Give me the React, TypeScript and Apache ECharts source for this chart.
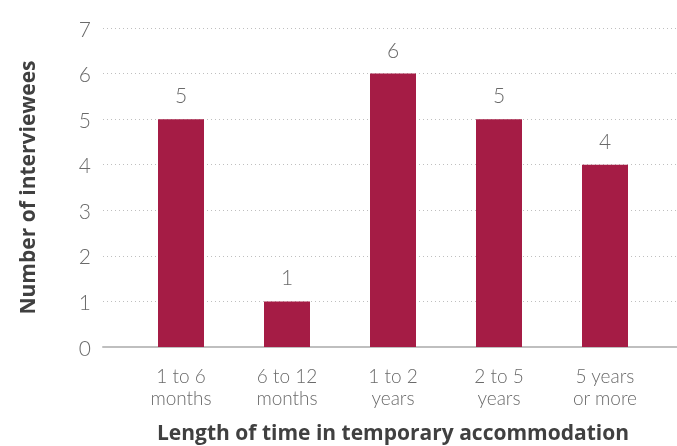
import React, { useEffect, useRef } from "react";
import * as echarts from "echarts";

const categories = ["1 to 6\nmonths", "6 to 12\nmonths", "1 to 2\nyears", "2 to 5\nyears", "5 years\nor more"];
const values = [5, 1, 6, 5, 4];
const yTicks = [0, 1, 2, 3, 4, 5, 6, 7];
const yTitle = "Number of interviewees";
const xTitle = "Length of time in temporary accommodation";

const FONT = "Lato, 'Open Sans', sans-serif";
const TITLE_FONT = "'Open Sans', 'Noto Sans', sans-serif";

export default function App() {
  const ref = useRef<HTMLDivElement>(null);
  useEffect(() => {
    if (!ref.current) return;
    const chart = echarts.init(ref.current, undefined, { renderer: "svg" });
    chart.setOption({
      animation: false,
      grid: [
        { left: 103, right: 0, top: 28, bottom: 99, outerBoundsMode: "none", containLabel: false },
        { left: 128, right: 19, top: 28, bottom: 99, outerBoundsMode: "none", containLabel: false },
      ],
      xAxis: [
        {
          gridIndex: 0,
          type: "value",
          min: 0,
          max: 1,
          axisLine: { show: true, onZero: false, lineStyle: { color: "#BFBFBF", width: 2 } },
          axisTick: { show: false },
          axisLabel: { show: false },
          splitLine: { show: false },
        },
        {
          gridIndex: 1,
          type: "category",
          data: categories,
          axisLine: { show: false },
          axisTick: { show: false },
          axisLabel: {
            color: "#6A6A6A",
            fontFamily: FONT,
            fontWeight: 300,
            fontSize: 19,
            lineHeight: 22,
            margin: 17,
          },
          name: xTitle,
          nameLocation: "middle",
          nameGap: 73,
          nameTextStyle: {
            color: "#404040",
            fontFamily: TITLE_FONT,
            fontWeight: "bold",
            fontSize: 21,
            lineHeight: 24,
          },
        },
      ],
      yAxis: [
        {
          gridIndex: 0,
          type: "value",
          min: yTicks[0],
          max: yTicks[yTicks.length - 1],
          interval: 1,
          axisLine: { show: false },
          axisTick: { show: false },
          axisLabel: {
            color: "#6A6A6A",
            fontFamily: FONT,
            fontWeight: 300,
            fontSize: 21,
            margin: 12,
          },
          splitLine: { show: true, lineStyle: { color: "#BFBFBF", type: [1, 3], width: 1 } },
          name: yTitle,
          nameLocation: "middle",
          nameGap: 66,
          nameRotate: 90,
          nameTextStyle: { color: "#404040", fontFamily: TITLE_FONT, fontWeight: "bold", fontSize: 21 },
        },
        {
          gridIndex: 1,
          type: "value",
          min: yTicks[0],
          max: yTicks[yTicks.length - 1],
          interval: 1,
          show: false,
          splitLine: { show: false },
        },
      ],
      series: [
        {
          type: "bar",
          xAxisIndex: 1,
          yAxisIndex: 1,
          data: values,
          barWidth: 46,
          itemStyle: { color: "#A51C45" },
          label: {
            show: true,
            position: "top",
            distance: 14,
            color: "#6A6A6A",
            fontFamily: FONT,
            fontWeight: 300,
            fontSize: 21,
          },
        },
      ],
    });
    return () => chart.dispose();
  }, []);
  return <div ref={ref} style={{ width: 677, height: 446, position: "fixed", left: 0, top: 0 }} />;
}
